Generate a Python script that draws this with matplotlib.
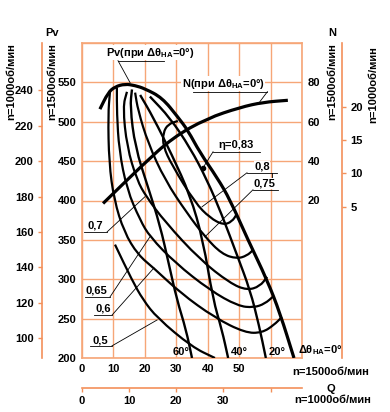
import numpy as np
import matplotlib
matplotlib.use("Agg")
import matplotlib.pyplot as plt
from matplotlib.path import Path
from matplotlib.patches import PathPatch

plt.rcParams['font.family'] = ['Liberation Sans', 'DejaVu Sans']
plt.rcParams['font.weight'] = 'bold'
plt.rcParams['mathtext.fontset'] = 'custom'
plt.rcParams['mathtext.rm'] = 'Liberation Sans:bold'
plt.rcParams['mathtext.it'] = 'Liberation Sans:bold'
plt.rcParams['mathtext.bf'] = 'Liberation Sans:bold'

# Pv(Q) at n=1500 rpm for guide vane angles
q_deg0 = [5.7, 8.3, 10.5, 13.7, 16.9, 20.0, 25.5, 30.5, 33.7, 37.5, 43.0, 47.1, 52.8, 58.9, 63.0, 67.45]
p_deg0 = [516, 537, 544.5, 548, 546, 542, 530.5, 506, 489, 461, 429, 401, 350, 299, 257, 200]
q_deg20 = [21.6, 28.0, 34.4, 39.8, 44.5, 49.3, 53.5, 56.3, 58.5]
p_deg20 = [532, 505, 467, 426, 382, 331, 286, 242, 200]
q_deg40 = [18.5, 22.6, 28.6, 34.4, 38.5, 41.7, 44.5, 46.5]
p_deg40 = [534, 506, 458, 407, 350, 274, 236, 200]
q_deg60 = [15.9, 15.3, 16.9, 21.0, 24.8, 27.7, 30.2, 33.1, 35.0]
p_deg60 = [541, 519, 468, 417, 369, 318, 274, 236, 200]

# efficiency contours
q_eta50 = [10.5, 15.9, 19.4, 23.9, 35.0, 42.3]
p_eta50 = [344, 299, 274, 251, 214, 200]
q_eta60 = [8.9, 8.3, 8.6, 10.2, 13.4, 17.8, 22.9, 31.2, 42.3, 51.9, 57.3, 61.1, 63.6]
p_eta60 = [538, 509, 448, 401, 360, 331, 314, 283, 251, 232, 232, 242, 252]
q_eta65 = [11.1, 11.1, 11.8, 14.3, 18.5, 21.6, 29.6, 40.7, 49.6, 54.7, 58.2, 60.8]
p_eta65 = [543, 511, 464, 414, 375, 354, 321, 286, 266, 264, 269, 278]
q_eta70 = [14.3, 13.0, 14.3, 17.5, 20.4, 26.4, 37.5, 47.1, 52.5, 56.6, 58.9]
p_eta70 = [538, 519, 468, 426, 405, 373, 325, 295, 286, 291, 303]
q_eta75 = [16.9, 17.8, 21.0, 26.4, 33.4, 39.1, 44.5, 49.3, 52.5, 54.4]
p_eta75 = [537, 515, 473, 426, 384, 354, 332, 326, 330, 337]
q_eta80 = [30.5, 27.4, 25.8, 25.8, 28.6, 36.0, 40.7, 44.9, 47.7, 49.3]
p_eta80 = [501, 497, 486, 469, 445, 397, 378, 369, 373, 383]
q_eta83, p_eta83 = 38.5, 441.5

# power N(Q) at n=1500 rpm
q_power = [6.7, 19.1, 28.9, 39.8, 50.3, 57.6, 65.5]
n_power = [18.5, 37.8, 52.0, 61.7, 67.3, 69.9, 70.9]

q_ticks = [0, 10, 20, 30, 40, 50, 60, 70]
q_labels = ['0', '10', '20', '30', '40', '50', '', '']
pv_ticks = [200, 250, 300, 350, 400, 450, 500, 550, 600]
pv_labels = ['200', '250', '300', '350', '400', '450', '500', '550', '']
n_ticks = [20, 40, 60, 80]
pv1000_ticks = [100, 120, 140, 160, 180, 200, 220, 240]
n1000_ticks = [5, 10, 15, 20]
q1000_ticks = [0, 10, 20, 30, 40]
q1000_labels = ['0', '10', '20', '30', '']

GRID = '#F6A677'
SPINE = '#F3905A'
W, H = 390, 412


def smooth_path(xs, ys):
    pts = np.column_stack([xs, ys]).astype(float)
    verts = [pts[0], (pts[0] + pts[1]) / 2]
    codes = [Path.MOVETO, Path.LINETO]
    for i in range(1, len(pts) - 1):
        verts += [pts[i], (pts[i] + pts[i + 1]) / 2]
        codes += [Path.CURVE3, Path.CURVE3]
    verts.append(pts[-1])
    codes.append(Path.LINETO)
    return Path(verts, codes)


def curve(axis, xs, ys, lw):
    axis.add_patch(PathPatch(smooth_path(xs, ys), fill=False, lw=lw,
                             edgecolor='black', capstyle='butt', zorder=3))


def label(x, y, s, lx, ly, ex, ey, width):
    # text above an underline, leader from the near end of the underline to the curve
    ax.plot([lx, lx + width], [ly, ly], color='black', lw=0.6, zorder=4)
    start = lx if ex < lx else lx + width
    ax.plot([start, ex], [ly, ey], color='black', lw=0.6, zorder=4)
    ax.text(x, y, s, ha='center', va='bottom', fontsize=8, zorder=5,
            bbox=dict(facecolor='white', edgecolor='none', pad=0.3))


fig = plt.figure(figsize=(W / 100, H / 100), dpi=100)
ax = fig.add_axes([82 / W, 54 / H, 220 / W, 315 / H])
ax.set_xlim(0, 70)
ax.set_ylim(200, 600)
ax.set_xticks(q_ticks)
ax.set_xticklabels(q_labels)
ax.set_yticks(pv_ticks)
ax.set_yticklabels(pv_labels)
ax.grid(True, color=GRID, lw=1.0)
ax.set_axisbelow(True)
ax.tick_params(length=0, labelsize=8, pad=4)
for s in ax.spines.values():
    s.set_color(GRID)
    s.set_linewidth(1.2)

curve(ax, q_deg0, p_deg0, 2.3)
curve(ax, q_deg20, p_deg20, 1.7)
curve(ax, q_deg40, p_deg40, 1.7)
curve(ax, q_deg60, p_deg60, 1.7)
for qs, ps in [(q_eta50, p_eta50), (q_eta60, p_eta60), (q_eta65, p_eta65),
               (q_eta70, p_eta70), (q_eta75, p_eta75), (q_eta80, p_eta80)]:
    curve(ax, qs, ps, 1.6)
ax.plot([q_eta83], [p_eta83], 'o', color='black', ms=3, zorder=4)

axn = ax.twinx()
axn.set_ylim(-60, 100)
axn.set_yticks(n_ticks)
axn.tick_params(length=0, labelsize=8, pad=4)
for s in axn.spines.values():
    s.set_visible(False)
curve(axn, q_power, n_power, 2.3)

# leaders and efficiency labels
label(5.7, 216, '0,5', 2.5, 215.3, 23.9, 248.3, 7.0)
label(6.7, 256, '0,6', 3.8, 254.7, 22.9, 314.4, 5.8)
label(4.6, 279, '0,65', 1.0, 277.5, 21.6, 353.8, 7.9)
label(4.1, 362, '0,7', 0.6, 360.2, 20.0, 404.7, 7.4)
label(57.3, 437, '0,8', 52.5, 435.2, 38.2, 392.0, 9.5)
label(58.2, 415, '0,75', 54.4, 413.6, 39.1, 353.8, 8.0)
label(49.0, 463.5, 'η=0,83', 41.7, 461.9, 38.5, 441.5, 14.9)
ax.plot([60.6, 60.6], [435.2, 429.0], color='black', lw=0.6, zorder=4)

ax.plot([11.45, 26.1], [577.6, 577.6], color='black', lw=0.6, zorder=4)
ax.plot([11.45, 15.3], [577.6, 549.6], color='black', lw=0.6, zorder=4)
ax.text(21.6, 579, r'Pv(при $\Delta\theta_{НА}$=0°)', ha='center', va='bottom',
        fontsize=8, zorder=5, bbox=dict(facecolor='white', edgecolor='none', pad=0.3))
ax.plot([35.3, 59.0], [538.2, 538.2], color='black', lw=0.6, zorder=4)
ax.plot([59.0, 56.6], [538.2, 525.5], color='black', lw=0.6, zorder=4)
ax.text(45.0, 539.5, r'N(при $\Delta\theta_{НА}$=0°)', ha='center', va='bottom',
        fontsize=8, zorder=5, bbox=dict(facecolor='white', edgecolor='none', pad=0.3))

for x, s in [(31.5, '60°'), (50.1, '40°'), (62.2, '20°')]:
    ax.text(x, 201, s, ha='center', va='bottom', fontsize=8, zorder=5)
ax.text(68.8, 201, r'$\Delta\theta_{НА}$=0°', ha='left', va='bottom', fontsize=8,
        zorder=5, clip_on=False)

# n=1000 rpm scales
sec_l = ax.secondary_yaxis(-40 / 220, functions=(lambda p: p / 2.25, lambda v: v * 2.25))
sec_l.set_yticks(pv1000_ticks)
sec_r = axn.secondary_yaxis(1 + 40 / 220, functions=(lambda n: n / 3.375, lambda v: v * 3.375))
sec_r.set_yticks(n1000_ticks)
sec_b = ax.secondary_xaxis(-30 / 315, functions=(lambda q: q / 1.5, lambda v: v * 1.5))
sec_b.set_xticks(q1000_ticks)
sec_b.set_xticklabels(q1000_labels)
for sec in (sec_l, sec_r, sec_b):
    sec.tick_params(length=3, width=1, color=SPINE, labelsize=8, pad=3)
    for s in sec.spines.values():
        s.set_color(SPINE)
        s.set_linewidth(1.2)


# axis titles
def ftext(px, py, s, **kw):
    fig.text(px / W, 1 - py / H, s, ha='center', va='center', fontsize=8, **kw)


ftext(52, 33, 'Pv')
ftext(332, 33, 'N')
ftext(52, 82, 'n=1500об/мин', rotation=90)
ftext(11, 82, 'n=1000об/мин', rotation=90)
ftext(332, 82, 'n=1500об/мин', rotation=90)
ftext(373, 85, 'n=1000об/мин', rotation=90)
ftext(331, 372, 'n=1500об/мин')
ftext(331, 389, 'Q')
ftext(333, 400, 'n=1000об/мин')

fig.savefig('out.png', dpi=100)
